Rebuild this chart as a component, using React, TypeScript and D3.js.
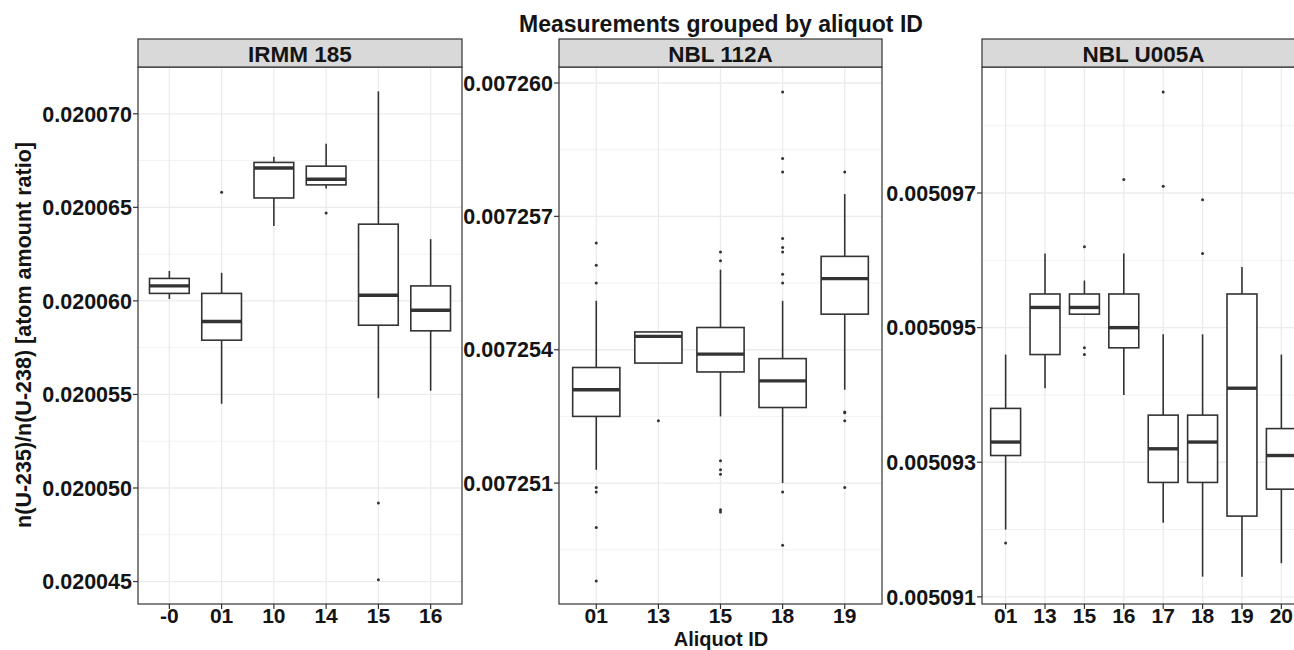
import React from 'react';
import * as d3 from 'd3';

// stats per box: [lower whisker, q1, median, q3, upper whisker]
const irmmIds = ['-0', '01', '10', '14', '15', '16'];
const irmmStats = [
  [0.0200601, 0.0200604, 0.0200608, 0.0200612, 0.0200616],
  [0.0200545, 0.0200579, 0.0200589, 0.0200604, 0.0200615],
  [0.0200640, 0.0200655, 0.0200671, 0.0200674, 0.0200677],
  [0.0200660, 0.0200662, 0.0200665, 0.0200672, 0.0200684],
  [0.0200548, 0.0200587, 0.0200603, 0.0200641, 0.0200712],
  [0.0200552, 0.0200584, 0.0200595, 0.0200608, 0.0200633],
];
const irmmOutliers = [[], [0.0200658], [], [0.0200647], [0.0200492, 0.0200451], []];
const irmmTicks = [0.020045, 0.02005, 0.020055, 0.02006, 0.020065, 0.02007];
const irmmMinor = [0.0200475, 0.0200525, 0.0200575, 0.0200625, 0.0200675, 0.0200725];
const irmmDomain = [0.0200438, 0.0200725];

const nbl112Ids = ['01', '13', '15', '18', '19'];
const nbl112Stats = [
  [0.0072513, 0.0072525, 0.0072531, 0.0072536, 0.0072551],
  [0.0072537, 0.0072537, 0.0072543, 0.0072544, 0.0072544],
  [0.0072525, 0.0072535, 0.0072539, 0.0072545, 0.0072558],
  [0.0072510, 0.0072527, 0.0072533, 0.0072538, 0.0072551],
  [0.0072531, 0.0072548, 0.0072556, 0.0072561, 0.0072575],
];
const nbl112Outliers = [
  [0.0072564, 0.0072559, 0.0072555, 0.0072509, 0.0072508, 0.00725, 0.0072488],
  [0.0072524],
  [0.0072562, 0.007256, 0.0072515, 0.0072513, 0.0072512, 0.0072504, 0.00725035],
  [0.0072598, 0.0072583, 0.007258, 0.0072565, 0.0072563, 0.0072562, 0.0072557, 0.0072555, 0.0072508, 0.0072496],
  [0.007258, 0.0072526, 0.00725258, 0.0072524, 0.0072509],
];
const nbl112Ticks = [0.007251, 0.007254, 0.007257, 0.00726];
const nbl112Minor = [0.0072495, 0.0072525, 0.0072555, 0.0072585];
const nbl112Domain = [0.00724828, 0.00726036];

const u005Ids = ['01', '13', '15', '16', '17', '18', '19', '20'];
const u005Stats = [
  [0.005092, 0.0050931, 0.0050933, 0.0050938, 0.0050946],
  [0.0050941, 0.0050946, 0.0050953, 0.0050955, 0.0050961],
  [0.0050952, 0.0050952, 0.0050953, 0.0050955, 0.0050957],
  [0.005094, 0.0050947, 0.005095, 0.0050955, 0.0050961],
  [0.0050921, 0.0050927, 0.0050932, 0.0050937, 0.0050949],
  [0.0050913, 0.0050927, 0.0050933, 0.0050937, 0.0050949],
  [0.0050913, 0.0050922, 0.0050941, 0.0050955, 0.0050959],
  [0.0050915, 0.0050926, 0.0050931, 0.0050935, 0.0050946],
];
const u005Outliers = [
  [0.0050918],
  [],
  [0.0050962, 0.0050947, 0.0050946],
  [0.0050972],
  [0.0050985, 0.0050971],
  [0.0050969, 0.0050961],
  [],
  [],
];
const u005Ticks = [0.005091, 0.005093, 0.005095, 0.005097];
const u005Minor = [0.005092, 0.005094, 0.005096, 0.005098];
const u005Domain = [0.005090894, 0.0050988722];

const panelNames = ['IRMM 185', 'NBL 112A', 'NBL U005A'];

const panels = [
  { name: panelNames[0], ids: irmmIds, stats: irmmStats, outliers: irmmOutliers, ticks: irmmTicks, minor: irmmMinor, domain: irmmDomain, x0: 138, x1: 462 },
  { name: panelNames[1], ids: nbl112Ids, stats: nbl112Stats, outliers: nbl112Outliers, ticks: nbl112Ticks, minor: nbl112Minor, domain: nbl112Domain, x0: 559, x1: 882 },
  { name: panelNames[2], ids: u005Ids, stats: u005Stats, outliers: u005Outliers, ticks: u005Ticks, minor: u005Minor, domain: u005Domain, x0: 982, x1: 1305 },
];

const W = 1294;
const H = 650;
const stripTop = 39;
const plotTop = 67;
const plotBottom = 604;
const font = '"Liberation Sans", Arial, sans-serif';
const dark = '#333333';
const textColor = '#141414';

const Panel = ({ p }) => {
  const x = d3.scalePoint().domain(p.ids).range([p.x0, p.x1]).padding(0.6);
  const y = d3.scaleLinear().domain(p.domain).range([plotBottom, plotTop]);
  const bw = x.step() * 0.76;
  const clipId = `clip-${p.name.replace(/\s/g, '')}`;

  return (
    <g>
      <defs>
        <clipPath id={clipId}>
          <rect x={p.x0} y={plotTop} width={p.x1 - p.x0} height={plotBottom - plotTop} />
        </clipPath>
      </defs>
      <rect x={p.x0} y={plotTop} width={p.x1 - p.x0} height={plotBottom - plotTop} fill='#fff' />
      <g clipPath={`url(#${clipId})`}>
        {p.minor.map(v => (
          <line key={`mn${v}`} x1={p.x0} x2={p.x1} y1={y(v)} y2={y(v)} stroke='#f2f2f2' strokeWidth={1} />
        ))}
        {p.ticks.map(v => (
          <line key={`mj${v}`} x1={p.x0} x2={p.x1} y1={y(v)} y2={y(v)} stroke='#ebebeb' strokeWidth={1.3} />
        ))}
        {p.ids.map(id => (
          <line key={`vx${id}`} x1={x(id)} x2={x(id)} y1={plotTop} y2={plotBottom} stroke='#ebebeb' strokeWidth={1.3} />
        ))}
        {p.stats.map((s, i) => {
          const cx = x(p.ids[i]);
          const [lo, q1, med, q3, hi] = s;
          return (
            <g key={`b${i}`}>
              <line x1={cx} x2={cx} y1={y(q3)} y2={y(hi)} stroke={dark} strokeWidth={1.6} />
              <line x1={cx} x2={cx} y1={y(q1)} y2={y(lo)} stroke={dark} strokeWidth={1.6} />
              <rect x={cx - bw / 2} y={y(q3)} width={bw} height={Math.max(0.5, y(q1) - y(q3))}
                fill='#fff' stroke={dark} strokeWidth={1.6} />
              <line x1={cx - bw / 2} x2={cx + bw / 2} y1={y(med)} y2={y(med)} stroke={dark} strokeWidth={3.4} />
              {p.outliers[i].map((o, j) => (
                <circle key={j} cx={cx} cy={y(o)} r={1.5} fill={dark} />
              ))}
            </g>
          );
        })}
      </g>
      <rect x={p.x0} y={plotTop} width={p.x1 - p.x0} height={plotBottom - plotTop} fill='none' stroke={dark} strokeWidth={1.2} />
      <rect x={p.x0} y={stripTop} width={p.x1 - p.x0} height={plotTop - stripTop} fill='#d9d9d9' stroke={dark} strokeWidth={1.2} />
      <text x={(p.x0 + p.x1) / 2} y={61.5} textAnchor='middle' fontSize={22.5} fontWeight='bold' fill={textColor}>{p.name}</text>
      {p.ticks.map(v => (
        <g key={`yt${v}`}>
          <line x1={p.x0 - 5} x2={p.x0} y1={y(v)} y2={y(v)} stroke={dark} strokeWidth={1.2} />
          <text x={p.x0 - 6} y={y(v)} dy='0.36em' textAnchor='end' fontSize={21.5} fontWeight='bold' fill={textColor}>
            {d3.format('.6f')(v)}
          </text>
        </g>
      ))}
      {p.ids.map(id => (
        <g key={`xt${id}`}>
          <line x1={x(id)} x2={x(id)} y1={plotBottom} y2={plotBottom + 5} stroke={dark} strokeWidth={1.2} />
          <text x={x(id)} y={623} textAnchor='middle' fontSize={21} fontWeight='bold' fill={textColor}>{id}</text>
        </g>
      ))}
    </g>
  );
};

const App = () => {
  return (
    <svg width={W} height={H} style={{ position: 'absolute', left: 0, top: 0, background: '#fff' }} fontFamily={font}>
      <rect width={W} height={H} fill='#fff' />
      <text x={721} y={32} textAnchor='middle' fontSize={23} fontWeight='bold' fill={textColor}>
        Measurements grouped by aliquot ID
      </text>
      {panels.map(p => <Panel key={p.name} p={p} />)}
      <text x={721} y={645.5} textAnchor='middle' fontSize={20} fontWeight='bold' fill={textColor}>Aliquot ID</text>
      <text transform='translate(31,335) rotate(-90)' textAnchor='middle' fontSize={21.5} fontWeight='bold' fill={textColor}>
        n(U-235)/n(U-238) [atom amount ratio]
      </text>
    </svg>
  );
};

export default App;
